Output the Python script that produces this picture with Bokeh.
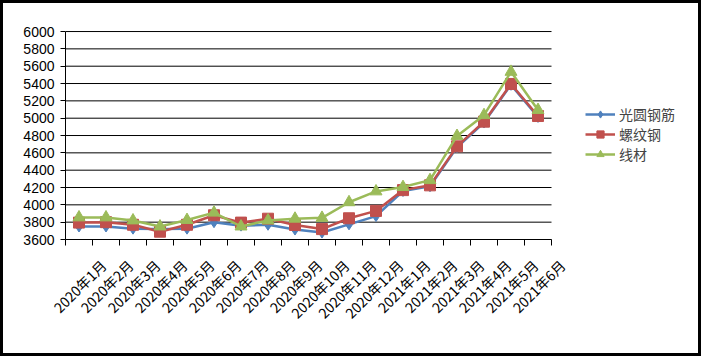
import math
from bokeh.plotting import figure
from bokeh.models import (Range1d, FixedTicker, ColumnDataSource, Legend, LegendItem,
                          LinearAxis)
from bokeh.embed import file_html
from bokeh.resources import INLINE

months = ["2020年1月", "2020年2月", "2020年3月", "2020年4月", "2020年5月", "2020年6月",
          "2020年7月", "2020年8月", "2020年9月", "2020年10月", "2020年11月", "2020年12月",
          "2021年1月", "2021年2月", "2021年3月", "2021年4月", "2021年5月", "2021年6月"]
round_bar = [3750, 3750, 3725, 3720, 3725, 3800, 3760, 3770, 3715, 3680, 3775, 3870,
             4160, 4215, 4665, 4950, 5385, 5015]
rebar = [3795, 3800, 3770, 3690, 3770, 3880, 3795, 3840, 3768, 3720, 3845, 3930,
         4170, 4225, 4675, 4960, 5395, 5025]
wire_rod = [3855, 3855, 3820, 3750, 3825, 3910, 3750, 3820, 3840, 3850, 4030, 4155,
            4205, 4285, 4795, 5035, 5535, 5095]
series_names = ["光圆钢筋", "螺纹钢", "线材"]
y_ticks = list(range(3600, 6001, 200))

n = len(months)
xc = [i + 0.5 for i in range(n)]
bounds = [float(i) for i in range(n + 1)]

# layout (pixels)
W, H = 701, 356
LEFT, RIGHT, TOP, BOTTOM = 62, 2, 27, 120
frame_w = W - LEFT - RIGHT
plot_w = 486                      # pixel width of the 18 categories
x_end = n * frame_w / plot_w      # frame extends right to hold the legend

src = ColumnDataSource(dict(x=xc, a=round_bar, b=rebar, c=wire_rod))
grid_src = ColumnDataSource(dict(y=y_ticks, x0=[0] * len(y_ticks), x1=[n] * len(y_ticks)))

p = figure(width=W, height=H, output_backend="svg", toolbar_location=None,
           x_range=Range1d(0, x_end), y_range=Range1d(3600, 6012),
           min_border_left=LEFT, min_border_right=RIGHT, min_border_top=TOP,
           min_border_bottom=BOTTOM)
p.styles = {"border": "3px solid black", "box-sizing": "border-box"}
p.outline_line_color = None
p.background_fill_color = "white"
p.border_fill_color = "white"
p.xgrid.grid_line_color = None
p.ygrid.grid_line_color = None

# horizontal grid lines spanning only the category area
p.segment(x0="x0", x1="x1", y0="y", y1="y", source=grid_src, line_color="black",
          line_width=1)

# y axis
p.yaxis.ticker = FixedTicker(ticks=y_ticks)
p.yaxis.bounds = (3600, 6000)
p.yaxis.axis_line_color = "black"
p.yaxis.major_tick_line_color = "black"
p.yaxis.major_tick_out = 5
p.yaxis.major_tick_in = 0
p.yaxis.minor_tick_line_color = None
p.yaxis.major_label_standoff = 6
p.yaxis.major_label_text_font = "Liberation Sans"
p.yaxis.major_label_text_font_size = "14px"
p.yaxis.major_label_text_color = "black"

# x axis: line and tick marks at category boundaries
p.xaxis.ticker = FixedTicker(ticks=[], minor_ticks=bounds)
p.xaxis.bounds = (0, n)
p.xaxis.axis_line_color = "black"
p.xaxis.major_tick_line_color = None
p.xaxis.minor_tick_line_color = "black"
p.xaxis.minor_tick_out = 6
p.xaxis.minor_tick_in = 0
p.xaxis.major_label_standoff = 0

# label axis on a shifted range so the rotated labels end right of each point
shift = 0.9
p.extra_x_ranges = {"lab": Range1d(-shift, x_end - shift)}
lab_axis = LinearAxis(x_range_name="lab", ticker=FixedTicker(ticks=xc),
                      major_label_overrides={x: m for x, m in zip(xc, months)},
                      major_label_orientation=math.pi / 4,
                      axis_line_color=None, major_tick_line_color=None,
                      minor_tick_line_color=None, major_tick_out=0, major_tick_in=0,
                      major_label_standoff=17,
                      major_label_text_font="Noto Sans CJK SC",
                      major_label_text_font_size="14px",
                      major_label_text_color="black")
p.add_layout(lab_axis, "below")

blue, red, green = "#4F81BD", "#C0504D", "#9BBB59"
l1 = p.line("x", "a", source=src, line_color=blue, line_width=2.5)
m1 = p.scatter("x", "a", source=src, marker="diamond", size=11, fill_color=blue,
               line_color=blue)
l2 = p.line("x", "b", source=src, line_color=red, line_width=2.5)
m2 = p.scatter("x", "b", source=src, marker="square", size=11, fill_color=red,
               line_color=red)
l3 = p.line("x", "c", source=src, line_color=green, line_width=2.5)
m3 = p.scatter("x", "c", source=src, marker="triangle", size=12, fill_color=green,
               line_color=green)

legend = Legend(items=[LegendItem(label=series_names[0], renderers=[l1, m1]),
                       LegendItem(label=series_names[1], renderers=[l2, m2]),
                       LegendItem(label=series_names[2], renderers=[l3, m3])],
                location=(520, 75), orientation="vertical",
                glyph_width=30, glyph_height=18, spacing=-2, padding=0, margin=0,
                label_standoff=4, label_text_font="Noto Sans CJK SC",
                label_text_font_size="14px", label_height=18,
                border_line_color=None, background_fill_alpha=0)
p.add_layout(legend)

open("out.html", "w").write(file_html(p, INLINE))
